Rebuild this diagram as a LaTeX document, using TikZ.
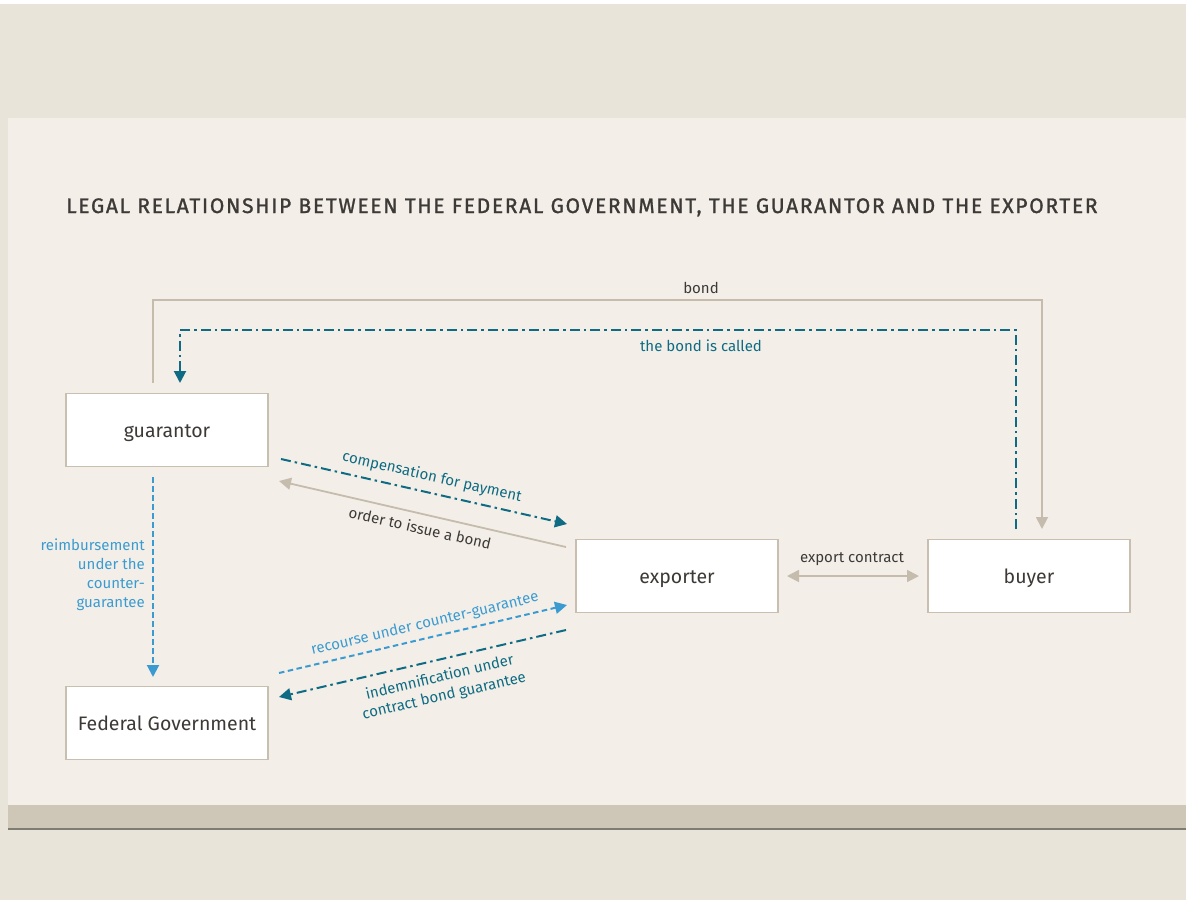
\documentclass[tikz,border=0pt]{standalone}
\usepackage{fontspec}
\setmainfont{Fira Sans}
\newfontfamily\titlefont{Fira Sans}[LetterSpace=8,FakeBold=1.2]
\usetikzlibrary{arrows.meta}
\definecolor{outerbg}{HTML}{E8E4DA}
\definecolor{panel}{HTML}{F3EFE8}
\definecolor{band}{HTML}{CEC6B6}
\definecolor{bandline}{HTML}{7E7D72}
\definecolor{boxline}{HTML}{C8BFB1}
\definecolor{txt}{HTML}{3D3936}
\definecolor{tealc}{HTML}{0E6B83}
\definecolor{lblue}{HTML}{3B9BD1}
\definecolor{beigeline}{HTML}{C5BCAE}
\begin{document}
\begin{tikzpicture}[x=1pt,y=-1pt,
  entity/.style={draw=boxline,line width=1.5pt,fill=white,minimum width=202pt,minimum height=73pt,inner sep=0pt,text height=15.5pt,text depth=0.3pt,text=txt,font=\fontsize{19.5}{21}\selectfont},
  lbl/.style={font=\fontsize{15}{19}\selectfont,inner sep=0pt},
  tip/.style={-{Triangle[length=12pt,width=12pt]}},
  plainline/.style={draw=beigeline,line width=1.8pt},
  dashdot/.style={draw=tealc,line width=2pt,dash pattern=on 10pt off 4pt on 2.5pt off 4pt},
  bluedash/.style={draw=lblue,line width=2pt,dash pattern=on 5.5pt off 3.5pt}
]
\useasboundingbox (0,0) rectangle (1186,900);
\fill[outerbg] (0,0) rectangle (1186,900);
\fill[white] (0,0) rectangle (1186,4);
\fill[panel] (8,118) rectangle (1186,805);
\fill[band] (8,805) rectangle (1186,829);
\fill[bandline] (8,828) rectangle (1186,830);

\node[anchor=base west,text=txt,inner sep=0pt] (title) at (66,213)
  {\titlefont\fontsize{21}{23}\selectfont LEGAL RELATIONSHIP BETWEEN THE FEDERAL GOVERNMENT, THE GUARANTOR AND THE EXPORTER};

\node[entity] (guarantor) at (167,430) {guarantor};
\node[entity] (fedgov) at (167,723) {Federal Government};
\node[entity] (exporter) at (677,576) {exporter};
\node[entity] (buyer) at (1029,576) {buyer};

% free ends
\coordinate (bondS) at (153,383);
\coordinate (bondE) at (1042,529);
\coordinate (calledS) at (1016,529);
\coordinate (calledE) at (180,383);
\coordinate (compS) at (281,459);
\coordinate (compE) at (567,524);
\coordinate (ordS) at (566,547);
\coordinate (ordE) at (279,481);
\coordinate (recS) at (279,673);
\coordinate (recE) at (567,605);
\coordinate (indS) at (566,630);
\coordinate (indE) at (279,697);
\coordinate (reimS) at (153,477);
\coordinate (reimE) at (153,677);
\coordinate (expL) at (787,576);
\coordinate (expR) at (919,576);

\draw[plainline,tip] (bondS) -- (153,300) -| (bondE);
\node[lbl,text=txt] (bondlbl) at (701,288) {bond};
\draw[dashdot,tip] (calledS) -- (1016,330) -| (calledE);
\node[lbl,text=tealc] (calledlbl) at (701,346) {the bond is called};

\draw[dashdot,tip] (compS) -- (compE);
\node[lbl,text=tealc,rotate=-12.85] (complbl) at (432,477) {compensation for payment};
\draw[plainline,tip] (ordS) -- (ordE);
\node[lbl,text=txt,rotate=-12.85] (ordlbl) at (420,528) {order to issue a bond};

\draw[bluedash,tip] (recS) -- (recE);
\node[lbl,text=lblue,rotate=13.3] (reclbl) at (425,624) {recourse under counter-guarantee};
\draw[dashdot,tip] (indS) -- (indE);
\node[lbl,text=tealc,rotate=13.2,align=center] (indlbl) at (442,687) {indemnification under\\contract bond guarantee};

\draw[bluedash,tip] (reimS) -- (reimE);
\node[lbl,text=lblue,align=right,anchor=east] (reimlbl) at (145,575) {reimbursement\\under the\\counter-\\guarantee};

\draw[plainline,{Triangle[length=12pt,width=12pt]}-{Triangle[length=12pt,width=12pt]}] (expL) -- (expR);
\node[lbl,text=txt] (explbl) at (852,559) {export contract};
\end{tikzpicture}
\end{document}
